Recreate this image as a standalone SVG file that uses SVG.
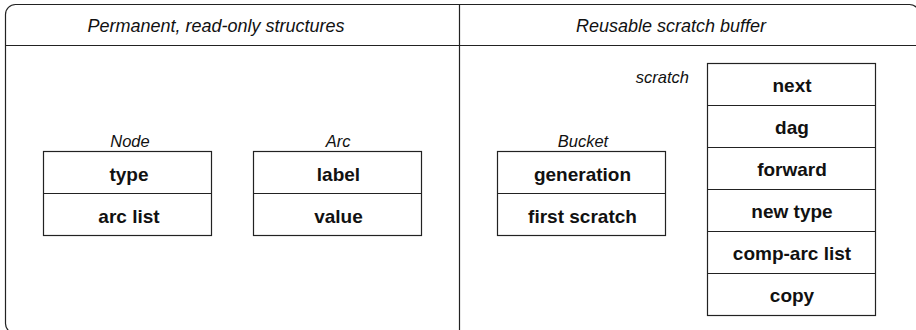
<svg xmlns="http://www.w3.org/2000/svg" width="916" height="330" viewBox="0 0 916 330">
<style>
.frame{fill:none;stroke:#222;stroke-width:1.2}
.box{fill:#fff;stroke:#222;stroke-width:1.2}
.hdr{font-family:"Liberation Sans",Arial,sans-serif;font-style:italic;font-size:18px;fill:#111;text-anchor:middle}
.lbl{font-family:"Liberation Sans",Arial,sans-serif;font-style:italic;font-size:16.5px;fill:#111;text-anchor:middle}
.fld{font-family:"Liberation Sans",Arial,sans-serif;font-weight:bold;font-size:19px;fill:#111;text-anchor:middle}
</style>
<rect width="916" height="330" fill="#fff"/>
<g id="frame">
<rect class="frame" x="5.5" y="4.5" width="914" height="329" rx="10" ry="10"/>
<line class="frame" x1="5.5" y1="45.5" x2="919" y2="45.5"/>
<line class="frame" x1="459.5" y1="4.5" x2="459.5" y2="333"/>
<text class="hdr" x="216" y="32">Permanent, read-only structures</text>
<text class="hdr" x="671" y="32">Reusable scratch buffer</text>
</g>
<g id="node-Node">
<text class="lbl" x="130" y="147">Node</text>
<rect class="box" x="43.5" y="151.5" width="168" height="84"/>
<line class="box" x1="43.5" y1="193.5" x2="211.5" y2="193.5"/>
<text class="fld" x="129" y="181">type</text>
<text class="fld" x="129" y="223">arc list</text>
</g>
<g id="node-Arc">
<text class="lbl" x="338" y="147">Arc</text>
<rect class="box" x="253.5" y="151.5" width="168" height="84"/>
<line class="box" x1="253.5" y1="193.5" x2="421.5" y2="193.5"/>
<text class="fld" x="338.5" y="181">label</text>
<text class="fld" x="338.5" y="223">value</text>
</g>
<g id="node-Bucket">
<text class="lbl" x="583" y="147">Bucket</text>
<rect class="box" x="497.5" y="151.5" width="168" height="84"/>
<line class="box" x1="497.5" y1="193.5" x2="665.5" y2="193.5"/>
<text class="fld" x="582.5" y="181">generation</text>
<text class="fld" x="582.5" y="223">first scratch</text>
</g>
<g id="node-scratch">
<text class="lbl" x="689" y="83" style="text-anchor:end">scratch</text>
<rect class="box" x="707.5" y="63.5" width="168" height="252"/>
<line class="box" x1="707.5" y1="105.5" x2="875.5" y2="105.5"/>
<line class="box" x1="707.5" y1="147.5" x2="875.5" y2="147.5"/>
<line class="box" x1="707.5" y1="189.5" x2="875.5" y2="189.5"/>
<line class="box" x1="707.5" y1="231.5" x2="875.5" y2="231.5"/>
<line class="box" x1="707.5" y1="273.5" x2="875.5" y2="273.5"/>
<text class="fld" x="792" y="92">next</text>
<text class="fld" x="792" y="134">dag</text>
<text class="fld" x="792" y="176">forward</text>
<text class="fld" x="792" y="218">new type</text>
<text class="fld" x="792" y="260">comp-arc list</text>
<text class="fld" x="792" y="302">copy</text>
</g>
<g id="connectors"></g>
</svg>
